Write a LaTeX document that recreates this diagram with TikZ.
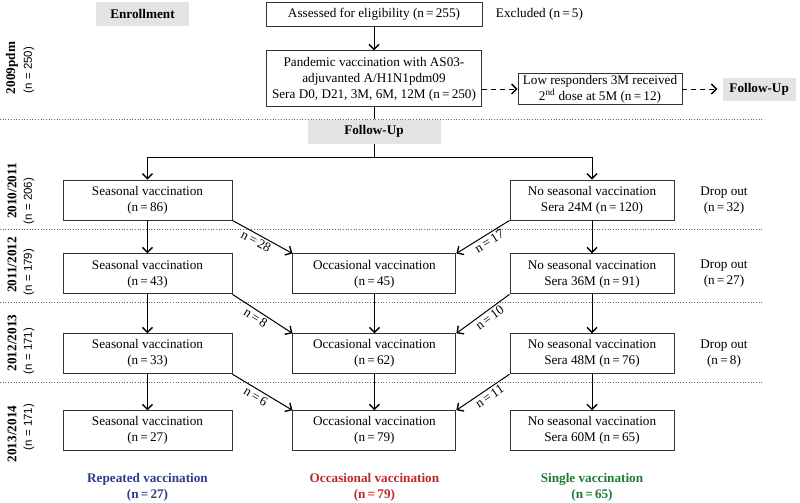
\documentclass[tikz,border=0pt]{standalone}
\usepackage{fontspec}
\setmainfont{Liberation Serif}
\setsansfont{Liberation Sans}
\usetikzlibrary{arrows.meta, positioning}

\definecolor{repblue}{HTML}{2E3A8C}
\definecolor{occred}{HTML}{C0272D}
\definecolor{singgreen}{HTML}{1E7B34}
\definecolor{boxgrey}{HTML}{E3E3E3}

\begin{document}
\begin{tikzpicture}[x=1pt, y=-1pt,
    font=\fontsize{13.2}{16}\selectfont,
    box/.style={draw=black!80, line width=0.9pt, align=center,
        minimum height=40pt, inner sep=2pt},
    greybox/.style={fill=boxgrey, minimum height=24pt,
        font=\fontsize{13.2}{16}\selectfont\bfseries},
    arr/.style={line width=1pt,
        -{Straight Barb[length=5pt, width=10pt, line width=1.4pt]}},
    sepline/.style={dotted, line width=0.7pt, black!60},
    yearlbl/.style={rotate=90, font=\fontsize{13.2}{16}\selectfont\bfseries},
    nlbl/.style={rotate=90, font=\fontsize{11.5}{13}\sffamily},
    difflbl/.style={sloped, below, pos=0.45, inner sep=2pt},
    sumlbl/.style={align=center, font=\fontsize{13.2}{16}\selectfont\bfseries}
]

\useasboundingbox (0,0) rectangle (800,503);

% season separators
\draw[sepline] (0,119) -- (763,119);
\draw[sepline] (0,229) -- (763,229);
\draw[sepline] (0,302) -- (763,302);
\draw[sepline] (0,382) -- (763,382);

\node[greybox,
    minimum width=93pt] (enroll) at (142.5,14) {Enrollment};

\node[box,
    minimum width=216pt,
    minimum height=24pt] (assess) at (374,14) {Assessed for eligibility (n\,=\,255)};

\node[right=10pt of assess] (excl) {Excluded (n\,=\,5)};

\node[box,
    below=24pt of assess,
    minimum width=215pt,
    minimum height=56pt] (pandemic) {Pandemic vaccination with AS03-\\
                                     adjuvanted A/H1N1pdm09\\
                                     Sera D0, D21, 3M, 6M, 12M (n\,=\,250)};

\node[box,
    minimum width=164pt,
    minimum height=31pt,
    inner sep=1pt] (lowresp) at (600,89) {Low responders 3M received\\
                                  2\textsuperscript{nd} dose at 5M (n\,=\,12)};

\node[greybox,
    right=40pt of lowresp,
    minimum width=73pt,
    minimum height=23pt] (fu_right) {Follow-Up};

\node[greybox,
    below=12pt of pandemic,
    minimum width=133pt] (followup) {Follow-Up};

% 2010/2011
\node[box,
    minimum width=169pt] (seas1) at (147.5,200) {Seasonal vaccination\\(n\,=\,86)};

\node[box,
    minimum width=164pt] (nos1) at (592,200) {No seasonal vaccination\\
                                              Sera 24M (n\,=\,120)};

\node[align=center] (drop1) at (724,201) {Drop out\\(n\,=\,32)};

% 2011/2012
\node[box,
    below=33pt of seas1,
    minimum width=169pt] (seas2) {Seasonal vaccination\\(n\,=\,43)};

\node[box,
    right=60pt of seas2,
    minimum width=163pt] (occ2) {Occasional vaccination\\(n\,=\,45)};

\node[box,
    below=33pt of nos1,
    minimum width=164pt] (nos2) {No seasonal vaccination\\
                                 Sera 36M (n\,=\,91)};

\node[align=center] (drop2) at (drop1 |- nos2) {Drop out\\(n\,=\,27)};

% 2012/2013
\node[box,
    below=39pt of seas2,
    minimum width=169pt] (seas3) {Seasonal vaccination\\(n\,=\,33)};

\node[box,
    below=39pt of occ2,
    minimum width=163pt] (occ3) {Occasional vaccination\\(n\,=\,62)};

\node[box,
    below=39pt of nos2,
    minimum width=164pt] (nos3) {No seasonal vaccination\\
                                 Sera 48M (n\,=\,76)};

\node[align=center] (drop3) at (drop1 |- nos3) {Drop out\\(n\,=\,8)};

% 2013/2014
\node[box,
    below=36pt of seas3,
    minimum width=169pt] (seas4) {Seasonal vaccination\\(n\,=\,27)};

\node[box,
    below=36pt of occ3,
    minimum width=163pt] (occ4) {Occasional vaccination\\(n\,=\,79)};

\node[box,
    below=36pt of nos3,
    minimum width=164pt] (nos4) {No seasonal vaccination\\
                                 Sera 60M (n\,=\,65)};

% totals
\node[sumlbl, text=repblue,
    below=19pt of seas4] (rep) {Repeated vaccination\\(n\,=\,27)};
\node[sumlbl, text=occred,
    below=19pt of occ4] (occ) {Occasional vaccination\\(n\,=\,79)};
\node[sumlbl, text=singgreen,
    below=19pt of nos4] (single) {Single vaccination\\(n\,=\,65)};

% season labels
\node[yearlbl] (y09) at (12,68) {2009pdm};
\node[nlbl] (n09) at (29,70) {(n = 250)};
\node[yearlbl] (y10) at (12,191) {2010/2011};
\node[nlbl] (n10) at (29,201) {(n = 206)};
\node[yearlbl] (y11) at (12,265) {2011/2012};
\node[nlbl] (n11) at (29,272) {(n = 179)};
\node[yearlbl] (y12) at (12,343) {2012/2013};
\node[nlbl] (n12) at (29,351) {(n = 171)};
\node[yearlbl] (y13) at (12,434) {2013/2014};
\node[nlbl] (n13) at (29,427) {(n = 171)};

\draw[arr] (assess) -- (pandemic);
\draw[line width=1pt] (pandemic) -- (followup);
\draw[arr] (followup.south) -- ++(0,14) -| (seas1);
\draw[arr] (followup.south) -- ++(0,14) -| (nos1);
\draw[arr, dash pattern=on 5pt off 4pt] (pandemic.east |- lowresp) -- (lowresp);
\draw[arr, dash pattern=on 5pt off 4pt, shorten >=5pt] (lowresp) -- (fu_right);

\draw[arr] (seas1) -- (seas2);
\draw[arr] (seas2) -- (seas3);
\draw[arr] (seas3) -- (seas4);
\draw[arr] (occ2) -- (occ3);
\draw[arr] (occ3) -- (occ4);
\draw[arr] (nos1) -- (nos2);
\draw[arr] (nos2) -- (nos3);
\draw[arr] (nos3) -- (nos4);

\draw[arr] (seas1.south east) -- node[difflbl]{n\,=\,28} (occ2.north west);
\draw[arr] (seas2.south east) -- node[difflbl]{n\,=\,8} (occ3.north west);
\draw[arr] (seas3.south east) -- node[difflbl]{n\,=\,6} (occ4.north west);
\draw[arr] (nos1.south west) -- node[difflbl]{n\,=\,17} (occ2.north east);
\draw[arr] (nos2.south west) -- node[difflbl]{n\,=\,10} (occ3.north east);
\draw[arr] (nos3.south west) -- node[difflbl]{n\,=\,11} (occ4.north east);

\end{tikzpicture}
\end{document}
